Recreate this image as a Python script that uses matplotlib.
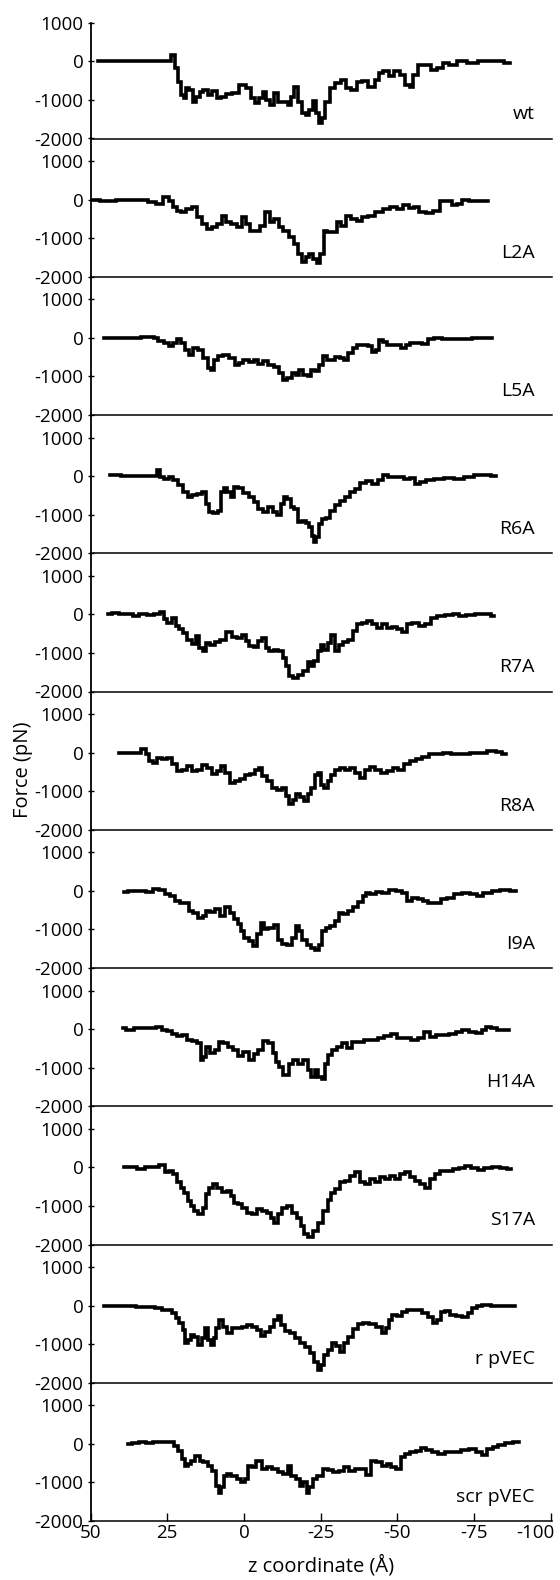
import matplotlib
matplotlib.use("Agg")
import matplotlib.pyplot as plt
from matplotlib.transforms import ScaledTranslation

plt.rcParams["font.family"] = ["Open Sans", "DejaVu Sans"]
plt.rcParams["axes.unicode_minus"] = False

# ── data: z coordinate (Å) and force (pN) ───────────────────────────────────
wt_z = [47.7, 40.1, 30.7, 24.3, 23.1, 22.0, 20.8, 20.0, 19.3, 18.5, 17.3, 16.1, 15.0, 13.8,
        12.6, 10.9, 9.7, 7.9, 6.8, 5.0, 2.7, 0.35, -1.4, -3.2, -4.3, -5.5, -6.7, -7.8,
        -9.0, -10.4, -11.9, -13.7, -14.8, -16.0, -16.9, -18.1, -19.5, -20.7, -21.8,
        -23.0, -24.2, -25.0, -25.9, -27.1, -28.9, -30.6, -32.4, -34.1, -35.9, -37.6,
        -39.4, -41.7, -43.5, -44.6, -46.4, -48.1, -49.9, -51.6, -53.4, -54.6, -55.7,
        -57.5, -59.8, -62.1, -63.9, -65.7, -68.0, -70.9, -74.4, -77.9, -82.6, -86.7]
wt_f = [0, 10, 20, 0, 170, -170, -520, -870, -960, -700, -740, -1040, -910, -780,
        -740, -870, -770, -960, -910, -850, -830, -610, -680, -960, -1090, -960, -800, -1000,
        -1130, -830, -1040, -1040, -1130, -910, -650, -1040, -1350, -1390, -1260,
        -1020, -1350, -1610, -1480, -1040, -700, -570, -480, -700, -740, -520,
        -500, -650, -480, -300, -260, -390, -260, -350, -610, -650, -350,
        -90, -90, -220, -170, -40, -100, 0, -30, 0, 0, -30]

l2a_z = [49.4, 44.7, 38.9, 33.1, 29.6, 27.8, 24.9, 23.7, 22.5, 21.4, 19.6, 17.9, 16.1, 14.4,
         12.6, 11.4, 9.7, 7.9, 6.4, 5.0, 3.3, 1.5, -0.2, -1.4, -2.6, -4.3, -6.1, -7.8,
         -9.0, -10.7, -11.9, -13.7, -15.4, -17.2, -18.3, -19.5, -20.7, -21.8, -23.0,
         -24.5, -25.4, -26.5, -27.7, -29.4, -31.2, -32.4, -34.1, -35.9, -37.6, -39.4,
         -41.7, -44.0, -46.4, -48.7, -51.1, -52.8, -54.6, -56.3, -58.1, -60.4, -62.7,
         -65.1, -66.8, -68.6, -70.3, -72.1, -74.4, -79.7]
l2a_f = [0, -20, 0, -10, -70, -110, 60, -30, -200, -280, -330, -240, -200, -460,
         -630, -760, -710, -630, -410, -590, -630, -710, -460, -630, -800, -800, -670, -330,
         -590, -500, -710, -800, -970, -1140, -1400, -1620, -1490, -1400, -1530,
         -1640, -1400, -810, -840, -840, -590, -670, -410, -500, -540, -440,
         -410, -330, -240, -200, -240, -130, -220, -200, -330, -350, -280,
         -40, -20, -130, -110, -10, -40, -30]

l5a_z = [45.5, 37.3, 29.8, 28.7, 27.0, 25.4, 23.7, 22.2, 21.1, 19.9, 18.4, 17.2, 15.7, 14.0,
         12.4, 11.3, 10.2, 9.2, 7.5, 5.9, 3.7, 2.1, 1.0, -0.7, -2.3, -4.0, -5.5, -7.2,
         -8.8, -11.0, -12.0, -13.2, -14.7, -16.4, -17.5, -18.5, -20.2, -21.3, -22.4,
         -24.0, -25.0, -26.5, -27.8, -28.9, -30.5, -32.1, -33.2, -34.9, -35.9, -37.6,
         -39.7, -41.4, -42.4, -43.5, -44.7, -45.7, -47.9, -50.1, -52.2, -53.3, -55.0,
         -57.1, -59.3, -60.9, -63.1, -65.9, -69.1, -72.4, -76.6, -81.0]
l5a_f = [0, 0, 20, 0, -80, -120, -210, -120, -30, -120, -300, -430, -250, -300,
         -510, -770, -820, -560, -470, -440, -510, -690, -640, -580, -620, -560, -670, -600,
         -700, -760, -900, -1080, -1050, -900, -950, -820, -970, -1000, -820,
         -860, -700, -470, -560, -580, -500, -510, -560, -380, -250, -170,
         -170, -210, -360, -300, -60, -100, -170, -180, -250, -170, -120,
         -120, -150, -30, -10, -30, -20, -30, -10, -10]

r6a_z = [43.8, 36.3, 28.7, 27.7, 27.0, 25.4, 23.7, 22.2, 20.5, 18.9, 17.8, 16.1, 14.5, 12.9,
         11.9, 10.7, 9.2, 8.0, 6.9, 5.9, 4.8, 3.7, 2.6, 1.0, -0.7, -2.3, -4.0, -5.5,
         -7.2, -8.8, -9.9, -11.5, -12.6, -13.7, -14.7, -15.8, -17.0, -18.1, -19.7,
         -20.8, -21.8, -22.6, -23.3, -24.0, -25.0, -26.2, -27.3, -28.9, -30.5, -32.1,
         -33.8, -35.4, -37.0, -38.6, -40.8, -43.0, -44.7, -46.2, -47.9, -49.5, -51.2,
         -53.3, -55.0, -56.6, -58.2, -60.4, -63.6, -66.9, -70.1, -73.4, -76.6, -78.9, -82.1]
r6a_f = [20, 0, 0, 160, -30, -70, -10, -110, -240, -420, -550, -500, -460, -420,
         -720, -940, -960, -890, -420, -300, -420, -550, -270, -300, -440, -550, -680, -850,
         -940, -810, -940, -1000, -720, -550, -590, -800, -850, -1190, -1150,
         -1220, -1320, -1540, -1710, -1590, -1240, -1110, -1090, -900, -760, -650,
         -550, -420, -330, -180, -130, -200, -100, 40, -10, -30, -10,
         -70, -40, -200, -150, -110, -80, -50, -70, -10, 20, 30, 0]

r7a_z = [44.4, 41.7, 39.5, 37.3, 35.2, 33.0, 30.3, 28.1, 26.4, 25.6, 24.3, 22.7, 21.6, 20.5,
         19.5, 17.8, 16.1, 15.1, 14.0, 12.9, 11.9, 10.2, 8.6, 6.9, 4.8, 3.1, 1.5, -0.1,
         -1.2, -2.3, -4.0, -5.5, -6.6, -7.8, -8.8, -10.5, -12.0, -13.2, -14.3,
         -15.3, -17.0, -18.5, -20.2, -21.3, -22.4, -23.5, -24.6, -25.6, -26.7, -27.8,
         -29.1, -30.2, -31.6, -33.2, -34.9, -35.9, -37.6, -39.2, -40.8, -42.4, -44.1,
         -45.7, -47.4, -48.9, -50.6, -52.2, -53.9, -56.0, -58.2, -59.8, -62.0, -64.2,
         -66.9, -69.1, -71.2, -73.9, -76.6, -79.4, -81.6]
r7a_f = [20, 40, 20, 0, -40, 0, -20, 20, 70, -130, -220, -90, -300, -390,
         -480, -650, -770, -570, -870, -960, -740, -780, -710, -650, -450, -590, -610, -520,
         -680, -830, -850, -700, -610, -870, -960, -910, -960, -1130, -1350,
         -1610, -1650, -1570, -1480, -1240, -1350, -1220, -960, -780, -910, -740,
         -520, -960, -780, -710, -650, -440, -260, -220, -170, -260, -350,
         -260, -350, -330, -390, -450, -260, -220, -300, -240, -90, -40,
         -20, 20, -40, -20, 20, 20, -30]

r8a_z = [40.6, 37.3, 34.6, 32.5, 31.4, 30.3, 29.2, 27.6, 26.0, 24.3, 22.7, 21.1, 19.5, 17.8,
         16.1, 14.5, 12.9, 11.3, 9.6, 8.0, 6.7, 5.3, 3.7, 2.1, 0.4, -1.2, -2.8, -4.4,
         -5.5, -6.6, -8.2, -9.9, -11.5, -13.2, -14.3, -15.3, -16.4, -17.5, -19.1,
         -20.2, -21.3, -22.4, -23.7, -24.8, -25.6, -26.7, -27.8, -28.9, -30.5, -32.1,
         -33.8, -35.4, -37.0, -38.6, -40.3, -42.0, -43.5, -45.7, -47.9, -49.5, -51.2,
         -53.3, -55.0, -57.1, -59.3, -61.5, -63.6, -65.9, -69.1, -72.4, -75.1, -77.7,
         -81.0, -83.1, -85.4]
r8a_f = [0, 0, 0, 90, -40, -220, -260, -130, -150, -130, -300, -480, -460, -350,
         -480, -440, -320, -390, -550, -480, -350, -520, -780, -740, -670, -570, -550, -460,
         -390, -610, -740, -910, -960, -910, -1130, -1330, -1240, -1070, -1150,
         -1260, -1070, -910, -570, -520, -830, -910, -740, -570, -440, -390,
         -460, -390, -520, -650, -440, -370, -460, -520, -480, -390, -440,
         -290, -220, -150, -110, -30, -30, -10, -30, -40, -10, 0,
         40, 20, -30]

i9a_z = [39.0, 36.3, 33.0, 30.8, 28.7, 26.4, 24.9, 23.2, 21.6, 19.9, 18.4, 17.2, 15.7, 14.0,
         12.9, 11.9, 10.2, 8.6, 6.9, 5.3, 3.7, 2.6, 1.5, 0.4, -0.7, -2.3, -3.7, -5.0,
         -5.9, -7.2, -8.8, -10.5, -11.5, -13.2, -14.7, -16.4, -17.5, -18.5, -19.7,
         -21.3, -22.4, -24.0, -25.0, -26.2, -27.3, -28.9, -30.5, -31.6, -33.2, -34.9,
         -36.5, -38.2, -39.2, -40.3, -42.0, -44.1, -46.2, -48.5, -50.6, -52.2, -53.9,
         -55.5, -57.7, -59.3, -60.9, -63.1, -65.3, -67.4, -69.6, -72.4, -75.1, -76.6,
         -79.4, -82.1, -84.8, -88.6]
i9a_f = [-20, 0, 0, -20, 40, 20, -90, -130, -260, -300, -300, -520, -570, -710,
         -650, -520, -540, -480, -650, -420, -570, -740, -870, -1040, -1220, -1310, -1440, -1130,
         -830, -1000, -960, -890, -1260, -1380, -1390, -1220, -910, -1040, -1260,
         -1390, -1490, -1520, -1390, -1030, -960, -910, -780, -570, -610, -520,
         -420, -280, -130, -40, -90, -20, -40, 20, 0, -40, -260,
         -190, -220, -260, -300, -300, -220, -170, -70, -40, -90, -130,
         -40, 0, 20, -10]

h14a_z = [39.5, 37.3, 34.6, 31.9, 29.8, 27.6, 26.0, 24.3, 22.7, 21.1, 19.5, 17.8, 16.1, 14.5,
          13.7, 12.9, 11.9, 10.2, 8.6, 7.5, 5.9, 4.2, 2.6, 1.0, -0.7, -2.3, -4.0, -5.5,
          -7.2, -8.8, -9.9, -11.0, -12.0, -13.2, -14.3, -15.3, -17.0, -18.5, -20.2,
          -21.3, -22.4, -23.7, -24.8, -25.9, -26.9, -28.0, -29.4, -31.1, -32.7, -34.3,
          -35.9, -38.2, -40.3, -42.4, -44.7, -46.8, -48.9, -51.2, -53.3, -55.5, -57.7,
          -59.8, -61.5, -63.6, -65.9, -68.0, -70.1, -72.4, -74.5, -76.6, -78.3, -79.4,
          -81.6, -83.7, -86.4]
h14a_f = [20, -10, 20, 40, 20, 60, -10, -40, -130, -180, -160, -270, -300, -370,
          -800, -720, -460, -610, -550, -330, -370, -460, -550, -700, -590, -790, -640, -530,
          -300, -370, -630, -850, -980, -1200, -1200, -890, -790, -890, -800,
          -1050, -1240, -1050, -1240, -1280, -890, -680, -550, -460, -370, -500,
          -330, -330, -290, -290, -220, -180, -130, -240, -240, -270, -240,
          -70, -200, -160, -160, -130, -70, -30, -70, -100, -30, 60,
          20, -30, -10]

s17a_z = [39.0, 36.3, 33.5, 30.8, 28.7, 26.4, 25.1, 23.7, 22.2, 21.1, 19.9, 18.9, 17.8, 16.7,
          15.7, 14.0, 12.9, 11.9, 10.7, 9.6, 8.0, 6.4, 4.8, 3.7, 2.6, 1.5, -0.1, -1.7,
          -3.4, -5.0, -6.6, -8.2, -9.3, -10.5, -11.5, -13.2, -14.7, -16.4, -18.1,
          -19.1, -20.2, -21.8, -23.5, -25.0, -26.7, -27.8, -28.9, -30.5, -32.1, -33.8,
          -35.4, -37.0, -38.6, -40.3, -42.0, -43.5, -45.1, -46.8, -48.5, -50.1, -51.7,
          -53.3, -55.0, -56.6, -58.2, -59.8, -61.5, -63.1, -64.7, -66.9, -69.1, -71.2,
          -72.8, -75.1, -77.2, -79.4, -82.1, -84.8, -86.9]
s17a_f = [20, 0, -40, 0, 20, 70, -130, -90, -170, -390, -520, -650, -870, -1000,
          -1130, -1200, -1040, -700, -520, -440, -520, -630, -610, -740, -910, -960, -1040, -1170,
          -1220, -1090, -1130, -1170, -1310, -1440, -1200, -1040, -1000, -1170, -1310,
          -1520, -1740, -1810, -1650, -1440, -1130, -850, -650, -570, -370, -350,
          -220, -130, -390, -440, -300, -390, -260, -300, -220, -300, -170,
          -130, -260, -350, -440, -520, -300, -170, -90, -90, -40, -20,
          40, -20, -70, -20, 0, -20, -30]

rpvec_z = [45.5, 41.7, 37.3, 33.0, 30.3, 27.6, 26.0, 24.3, 22.7, 21.6, 20.5, 19.5, 18.6, 17.8,
           16.7, 15.7, 14.4, 13.2, 12.4, 11.3, 10.2, 9.3, 8.6, 7.5, 6.4, 4.8, 3.1, 1.5,
           -0.1, -1.7, -3.4, -5.0, -6.1, -7.8, -9.3, -10.5, -11.5, -12.6, -14.3,
           -15.8, -17.5, -19.1, -20.8, -22.4, -23.5, -24.6, -25.6, -26.7, -28.3, -29.4,
           -30.5, -32.1, -33.2, -34.9, -36.5, -38.2, -39.7, -42.0, -44.1, -45.7, -46.8,
           -47.9, -48.9, -50.6, -52.2, -53.9, -55.5, -57.1, -59.3, -60.9, -62.5, -63.6,
           -64.7, -66.3, -68.0, -70.1, -72.4, -73.9, -75.1, -76.6, -78.9, -82.1, -85.4, -88.5]
rpvec_f = [0, -10, -10, -30, -40, -70, -110, -100, -200, -330, -460, -630, -980, -890,
           -760, -800, -1020, -850, -590, -890, -1020, -850, -590, -370, -550, -720, -590, -590,
           -550, -500, -550, -630, -790, -680, -550, -370, -270, -500, -650,
           -720, -850, -980, -1070, -1240, -1460, -1680, -1540, -1280, -1150, -980,
           -1050, -1200, -980, -800, -610, -480, -460, -480, -550, -720, -590,
           -370, -240, -270, -160, -110, -100, -110, -180, -290, -460, -370,
           -160, -130, -240, -270, -290, -200, -70, 0, 20, -10, -10, 0]

scr_z = [37.7, 35.4, 33.1, 30.7, 28.4, 26.1, 23.7, 22.0, 20.8, 19.6, 18.8, 17.9, 16.7, 15.0,
         13.8, 12.6, 10.9, 9.7, 8.5, 7.9, 6.8, 6.2, 5.0, 3.3, 1.5, 0.35, -0.8, -2.0,
         -3.2, -4.9, -6.7, -8.4, -10.2, -11.9, -13.7, -14.8, -16.0, -17.8, -18.6, -20.1,
         -20.9, -21.8, -23.0, -24.8, -26.5, -28.3, -30.0, -31.8, -33.5, -35.3, -37.0,
         -38.8, -40.5, -42.3, -44.0, -45.8, -47.5, -48.7, -50.5, -51.6, -53.4, -55.1,
         -56.9, -58.6, -60.4, -62.1, -64.5, -66.8, -69.2, -72.1, -74.4, -76.8, -78.5,
         -80.3, -82.0, -83.8, -86.1, -89.6]
scr_f = [0, 30, 60, 20, 40, 60, 40, -40, -170, -390, -570, -520, -440, -300,
         -440, -480, -570, -700, -1090, -1260, -1130, -830, -780, -840, -910, -1000, -910, -570,
         -610, -440, -650, -610, -650, -720, -780, -580, -830, -910, -1090, -1000,
         -1260, -1130, -910, -830, -640, -670, -740, -700, -610, -700, -640,
         -650, -810, -440, -480, -570, -520, -610, -640, -350, -260, -200,
         -170, -110, -150, -220, -260, -220, -200, -150, -130, -220, -290,
         -130, -90, -30, 20, 40]

names = ["wt", "L2A", "L5A", "R6A", "R7A", "R8A", "I9A", "H14A", "S17A", "r pVEC", "scr pVEC"]
zs = [wt_z, l2a_z, l5a_z, r6a_z, r7a_z, r8a_z, i9a_z, h14a_z, s17a_z, rpvec_z, scr_z]
forces = [wt_f, l2a_f, l5a_f, r6a_f, r7a_f, r8a_f, i9a_f, h14a_f, s17a_f, rpvec_f, scr_f]

y_ticks = [-2000, -1000, 0, 1000]
x_ticks = [50, 25, 0, -25, -50, -75, -100]

# ── layout (pixel geometry measured on the reference) ───────────────────────
W, H = 560, 1580
fig = plt.figure(figsize=(W / 100, H / 100), dpi=100)
fig.patch.set_facecolor("white")

ax_left, ax_w = 90.5, 461.5          # px
px_per_unit = 460.2 / 150.0
panel_h = 138.25                     # px
bottom0 = H - 1521.0                 # px from figure bottom
n = len(names)

for i, (name, z, f) in enumerate(zip(names, zs, forces)):
    ax = fig.add_axes([ax_left / W, (bottom0 + (n - 1 - i) * panel_h) / H,
                       ax_w / W, panel_h / H])
    ax.plot(z, f, color="black", lw=2.6, drawstyle="steps-mid",
            solid_joinstyle="miter")
    ax.set_xlim(50, 50 - ax_w / px_per_unit)
    ax.set_ylim(-2000, 1590)
    ax.set_facecolor("none")
    for s in ("top", "right"):
        ax.spines[s].set_visible(False)
    ax.spines["left"].set_linewidth(1.3)
    ax.spines["bottom"].set_linewidth(1.1)
    if i == 0:
        ax.spines["left"].set_bounds(-2000, 1000)
    ax.set_yticks(y_ticks)
    ax.set_yticklabels([str(t) for t in y_ticks])
    ax.tick_params(axis="y", direction="inout", length=5, width=1, pad=2.5,
                   labelsize=13.5)
    if i == n - 1:
        ax.set_xticks(x_ticks)
        ax.set_xticklabels([str(t) for t in x_ticks])
        ax.tick_params(axis="x", direction="in", length=6, width=1, pad=2,
                       labelsize=13.5)
        # the last label sits left of its tick so it stays inside the figure
        last = ax.get_xticklabels()[-1]
        last.set_transform(last.get_transform()
                           + ScaledTranslation(-0.15, 0, fig.dpi_scale_trans))
    else:
        ax.set_xticks([])
    ax.text(0.963, -1375, name, transform=ax.get_yaxis_transform(),
            ha="right", va="center", fontsize=14)

fig.text(321 / W, 1 - 1566 / H, "z coordinate (Å)", ha="center", va="center",
         fontsize=14.5)
fig.text(23 / W, 1 - 770 / H, "Force (pN)", ha="center", va="center",
         rotation=90, fontsize=14.5)

fig.savefig("out.png", dpi=100, facecolor="white")
